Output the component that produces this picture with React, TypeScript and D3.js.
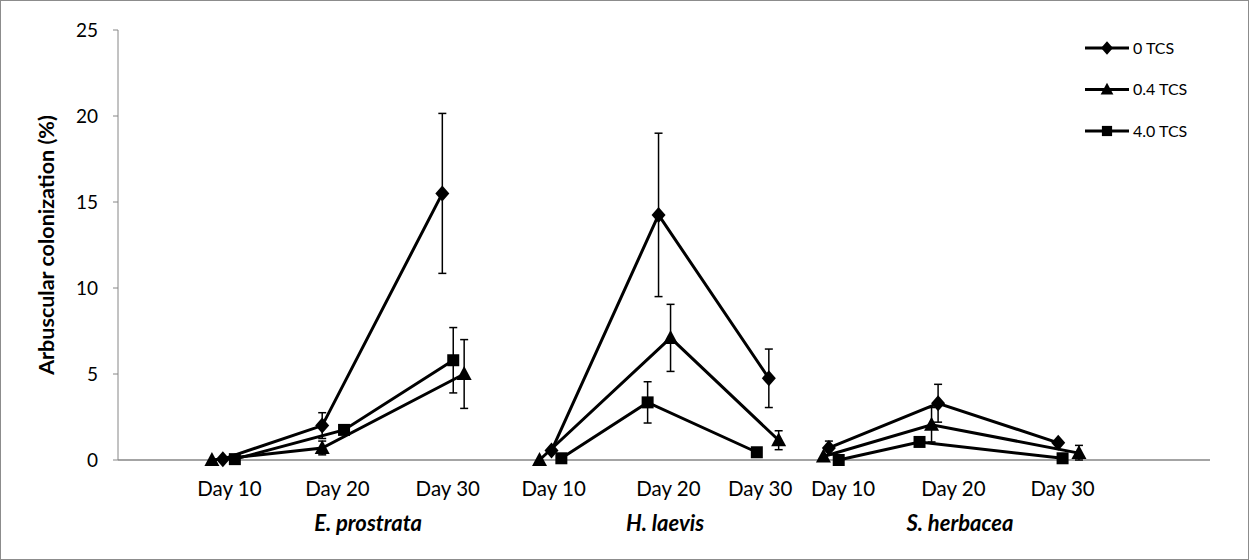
import React from "react";
import * as d3 from "d3";

// Species groups and sampling days
const species = ["E. prostrata", "H. laevis", "S. herbacea"];
const days = ["Day 10", "Day 20", "Day 30"];

// Horizontal slot of each day label and species label (x-units of the scatter axis)
const dayLabelX = [1.02, 2.01, 3.02, 3.99, 5.04, 5.88, 6.64, 7.65, 8.65];
const speciesLabelX = [2.29, 5.01, 7.71];

const seriesNames = ["0 TCS", "0.4 TCS", "4.0 TCS"];

// x positions per series (three points per species group)
const xTcs0 = [[0.96, 1.87, 2.97], [3.97, 4.95, 5.96], [6.51, 7.51, 8.61]];
const xTcs04 = [[0.86, 1.87, 3.17], [3.86, 5.06, 6.05], [6.46, 7.45, 8.8]];
const xTcs40 = [[1.07, 2.07, 3.07], [4.06, 4.85, 5.85], [6.6, 7.34, 8.65]];

// Mean arbuscular colonization (%)
const yTcs0 = [[0.05, 2.0, 15.5], [0.55, 14.25, 4.75], [0.7, 3.3, 1.0]];
const yTcs04 = [[0, 0.7, 5.0], [0, 7.1, 1.15], [0.2, 2.05, 0.4]];
const yTcs40 = [[0.05, 1.75, 5.8], [0.1, 3.35, 0.45], [0.0, 1.05, 0.1]];

// Standard errors
const eTcs0 = [[0, 0.75, 4.65], [0, 4.75, 1.7], [0.4, 1.1, 0]];
const eTcs04 = [[0, 0.4, 2.0], [0, 1.95, 0.55], [0, 1.0, 0.45]];
const eTcs40 = [[0, 0, 1.9], [0, 1.2, 0], [0, 0, 0]];

const yTicks = [0, 5, 10, 15, 20, 25];

const W = 1249;
const H = 560;
const plot = { left: 118, right: 1210, top: 30, bottom: 460 };

const x = d3.scaleLinear().domain([0, 10]).range([plot.left, plot.right]);
const y = d3.scaleLinear().domain([0, 25]).range([plot.bottom, plot.top]);

// Marker shapes as d3 symbol types
const diamond = {
  draw(ctx: any) {
    ctx.moveTo(0, -8);
    ctx.lineTo(7, 0);
    ctx.lineTo(0, 8);
    ctx.lineTo(-7, 0);
    ctx.closePath();
  },
};
const triangle = {
  draw(ctx: any) {
    ctx.moveTo(0, -8);
    ctx.lineTo(7.5, 6);
    ctx.lineTo(-7.5, 6);
    ctx.closePath();
  },
};
const square = {
  draw(ctx: any) {
    ctx.rect(-6, -6, 12, 12);
  },
};
const symbolTypes = [diamond, triangle, square];

const series = seriesNames.map((name, i) => ({
  name,
  xs: [xTcs0, xTcs04, xTcs40][i],
  ys: [yTcs0, yTcs04, yTcs40][i],
  es: [eTcs0, eTcs04, eTcs40][i],
  symbol: d3.symbol().type(symbolTypes[i] as any)(),
}));

const line = d3
  .line<[number, number]>()
  .x((d) => x(d[0]))
  .y((d) => y(d[1]));

const FONT = "Lato, 'Open Sans', sans-serif";

export default function App() {
  return (
    <div style={{ position: "fixed", left: 0, top: 0 }}>
      <svg width={W} height={H} style={{ display: "block", background: "#fff" }}>
        <rect x={0.5} y={0.5} width={W - 1} height={H - 1} fill="#fff" stroke="#8c8c8c" />

        {/* y axis */}
        <line x1={plot.left} x2={plot.left} y1={plot.top} y2={plot.bottom} stroke="#868686" strokeWidth={1} />
        {yTicks.map((t) => (
          <g key={t}>
            <line x1={plot.left - 5} x2={plot.left} y1={y(t)} y2={y(t)} stroke="#868686" />
            <text x={plot.left - 20} y={y(t)} dy="0.35em" textAnchor="end" fontFamily={FONT} fontSize={19} fill="#000">
              {t}
            </text>
          </g>
        ))}
        <text
          transform={`translate(54,${(plot.top + plot.bottom) / 2}) rotate(-90)`}
          textAnchor="middle"
          fontFamily={FONT}
          fontWeight="bold"
          fontSize={21.5}
        >
          Arbuscular colonization (%)
        </text>

        {/* x axis */}
        <line x1={plot.left} x2={plot.right} y1={plot.bottom} y2={plot.bottom} stroke="#868686" strokeWidth={1.5} />
        {dayLabelX.map((v, i) => (
          <text key={i} x={x(v)} y={496} textAnchor="middle" fontFamily={FONT} fontSize={20.5}>
            {days[i % 3]}
          </text>
        ))}
        {species.map((s, i) => (
          <text
            key={s}
            x={x(speciesLabelX[i])}
            y={531}
            textAnchor="middle"
            fontFamily={FONT}
            fontSize={22}
            fontWeight="bold"
            fontStyle="italic"
          >
            {s}
          </text>
        ))}

        {/* series */}
        {series.map((s) => (
          <g key={s.name}>
            {s.xs.map((gx, gi) => (
              <g key={gi}>
                <path
                  d={line(gx.map((xv, k) => [xv, s.ys[gi][k]] as [number, number])) || ""}
                  fill="none"
                  stroke="#000"
                  strokeWidth={3}
                />
                {gx.map((xv, k) => {
                  const e = s.es[gi][k];
                  if (!e) return null;
                  const cx = x(xv);
                  const v = s.ys[gi][k];
                  const lo = Math.max(0, v - e);
                  return (
                    <g key={"e" + k} stroke="#000" strokeWidth={1.5}>
                      <line x1={cx} x2={cx} y1={y(v + e)} y2={y(lo)} />
                      <line x1={cx - 4} x2={cx + 4} y1={y(v + e)} y2={y(v + e)} />
                      <line x1={cx - 4} x2={cx + 4} y1={y(lo)} y2={y(lo)} />
                    </g>
                  );
                })}
                {gx.map((xv, k) => (
                  <path key={"m" + k} d={s.symbol || ""} transform={`translate(${x(xv)},${y(s.ys[gi][k])})`} fill="#000" />
                ))}
              </g>
            ))}
          </g>
        ))}

        {/* legend */}
        {series.map((s, i) => {
          const ly = 48 + i * 41.5;
          return (
            <g key={s.name}>
              <line x1={1085} x2={1129} y1={ly} y2={ly} stroke="#000" strokeWidth={3} />
              <path d={s.symbol || ""} transform={`translate(1107,${ly}) scale(0.85)`} fill="#000" />
              <text x={1133} y={ly} dy="0.35em" fontFamily={FONT} fontSize={16}>
                {s.name}
              </text>
            </g>
          );
        })}
      </svg>
    </div>
  );
}
